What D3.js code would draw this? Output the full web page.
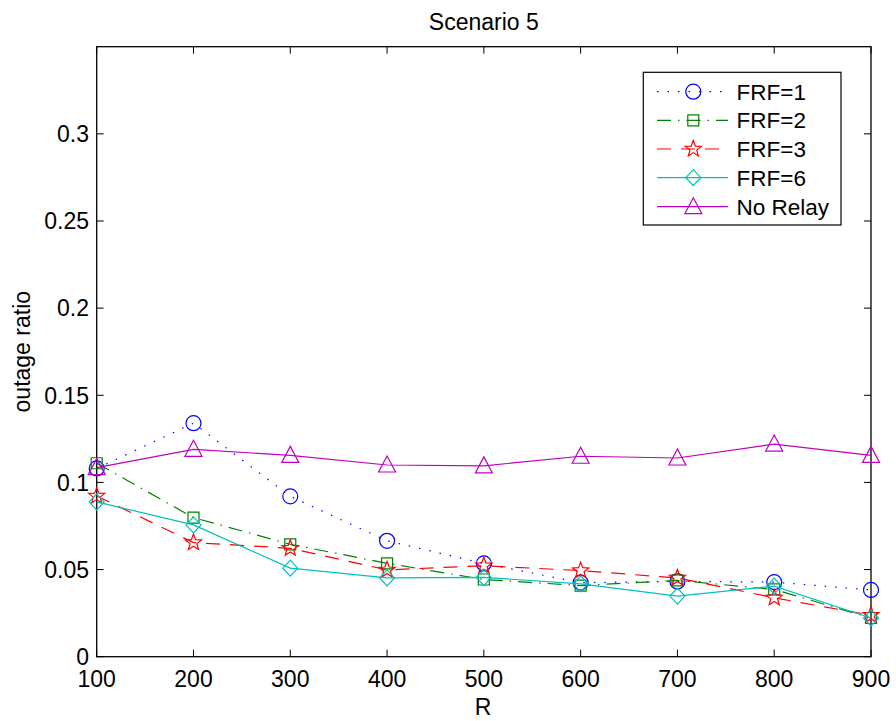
<!DOCTYPE html>
<html><head><meta charset="utf-8">
<script src="https://cdn.jsdelivr.net/npm/d3@7"></script>
<style>body{margin:0;background:#fff}svg{display:block}text{font-family:"Liberation Sans",Arial,sans-serif}</style>
</head><body><svg id="c" width="896" height="721"></svg>
<script>
const R = [100,200,300,400,500,600,700,800,900];
const frf1 = [0.108,0.134,0.092,0.0665,0.0535,0.0425,0.0432,0.0428,0.0383];
const frf2 = [0.111,0.0798,0.0645,0.0536,0.0443,0.0408,0.0438,0.0386,0.0222];
const frf3 = [0.0922,0.0655,0.0622,0.0498,0.0522,0.0494,0.0452,0.0338,0.0238];
const frf6 = [0.0888,0.0756,0.0508,0.0452,0.0455,0.0418,0.0348,0.0405,0.0222];
const noRelay = [0.1085,0.1190,0.1155,0.1100,0.1095,0.1150,0.1140,0.1220,0.1155];
const xTicks = [100,200,300,400,500,600,700,800,900];
const yTicks = [0,0.05,0.1,0.15,0.2,0.25,0.3];
const yTickLabels = ["0","0.05","0.1","0.15","0.2","0.25","0.3"];
const seriesNames = ["FRF=1","FRF=2","FRF=3","FRF=6","No Relay"];

const series = [
  {name:seriesNames[0], values:frf1, color:"#0000ff", dash:"1.5,9", marker:"circle"},
  {name:seriesNames[1], values:frf2, color:"#008000", dash:"14,7,1.5,7", marker:"square"},
  {name:seriesNames[2], values:frf3, color:"#ff0000", dash:"14,10", marker:"star"},
  {name:seriesNames[3], values:frf6, color:"#00bfbf", dash:null, marker:"diamond"},
  {name:seriesNames[4], values:noRelay, color:"#bf00bf", dash:null, marker:"triangle"}
];

const L=96.7, Rr=871, T=46.7, B=656.7;
const x = d3.scaleLinear().domain([100,900]).range([L,Rr]);
const y = d3.scaleLinear().domain([0,0.35]).range([B,T]);
const svg = d3.select("#c");
const FS = 23, TL = 7;

function markerPath(type){
  switch(type){
    case "circle": { const p=d3.path(); p.arc(0,0,7.5,0,2*Math.PI); return p.toString(); }
    case "square": return "M-5.5,-5.5H5.5V5.5H-5.5Z";
    case "diamond": return "M0,-8L7.5,0L0,8L-7.5,0Z";
    case "triangle": return "M0,-9L8.5,7L-8.5,7Z";
    case "star": {
      let s=""; const ro=8.5, ri=3.6;
      for(let i=0;i<10;i++){const r=i%2?ri:ro; const a=-Math.PI/2+i*Math.PI/5; s+=(i?"L":"M")+(r*Math.cos(a)).toFixed(2)+","+(r*Math.sin(a)).toFixed(2);}
      return s+"Z";
    }
  }
}

svg.append("rect").attr("x",L).attr("y",T).attr("width",Rr-L).attr("height",B-T)
  .attr("fill","none").attr("stroke","#000").attr("stroke-width",1.3);

const g = svg.append("g");
xTicks.forEach(v=>{
  g.append("line").attr("x1",x(v)).attr("x2",x(v)).attr("y1",B).attr("y2",B-TL).attr("stroke","#000");
  g.append("line").attr("x1",x(v)).attr("x2",x(v)).attr("y1",T).attr("y2",T+TL).attr("stroke","#000");
  g.append("text").attr("x",x(v)).attr("y",686.5).attr("text-anchor","middle").attr("font-size",FS).text(v);
});
yTicks.forEach((v,i)=>{
  g.append("line").attr("x1",L).attr("x2",L+TL).attr("y1",y(v)).attr("y2",y(v)).attr("stroke","#000");
  g.append("line").attr("x1",Rr).attr("x2",Rr-TL).attr("y1",y(v)).attr("y2",y(v)).attr("stroke","#000");
  g.append("text").attr("x",89).attr("y",y(v)).attr("dy","0.36em").attr("text-anchor","end").attr("font-size",FS).text(yTickLabels[i]);
});

svg.append("text").attr("x",(L+Rr)/2).attr("y",29.5).attr("text-anchor","middle").attr("font-size",FS).text("Scenario 5");
svg.append("text").attr("x",483).attr("y",715).attr("text-anchor","middle").attr("font-size",FS).text("R");
svg.append("text").attr("transform",`translate(29.5,${(T+B)/2}) rotate(-90)`).attr("text-anchor","middle").attr("font-size",FS).text("outage ratio");

const line = d3.line().x((d,i)=>x(R[i])).y(d=>y(d));
series.forEach(s=>{
  const p = svg.append("path").attr("d",line(s.values)).attr("fill","none").attr("stroke",s.color).attr("stroke-width",1.2);
  if(s.dash) p.attr("stroke-dasharray",s.dash);
  svg.append("g").selectAll("path").data(s.values).join("path")
    .attr("transform",(d,i)=>`translate(${x(R[i])},${y(d)})`)
    .attr("d",markerPath(s.marker)).attr("fill","none").attr("stroke",s.color).attr("stroke-width",1.2);
});

const lg = svg.append("g");
lg.append("rect").attr("x",643.3).attr("y",72.3).attr("width",841-643.3).attr("height",225-72.3)
  .attr("fill","#fff").attr("stroke","#000").attr("stroke-width",1.2);
const rowY=[91.7,120.3,149,177.7,206.7];
series.forEach((s,i)=>{
  const ly=rowY[i];
  const l = lg.append("line").attr("x1",657).attr("x2",728).attr("y1",ly).attr("y2",ly).attr("stroke",s.color).attr("stroke-width",1.2);
  if(s.dash) l.attr("stroke-dasharray",s.dash);
  lg.append("path").attr("transform",`translate(693.3,${ly})`).attr("d",markerPath(s.marker)).attr("fill","none").attr("stroke",s.color).attr("stroke-width",1.2);
  lg.append("text").attr("x",736.5).attr("y",ly).attr("dy","0.36em").attr("font-size",22.5).text(s.name);
});
</script></body></html>
